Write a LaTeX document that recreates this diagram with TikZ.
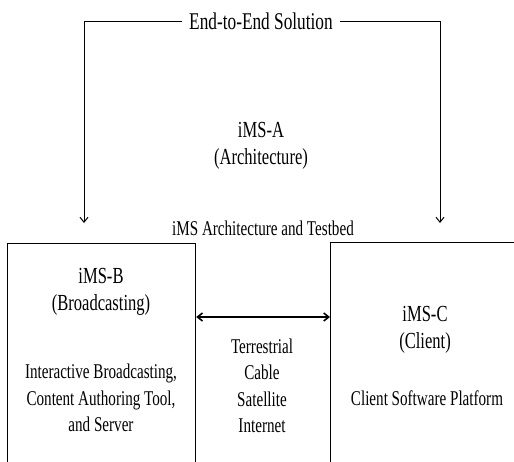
\documentclass[tikz,border=0pt]{standalone}
\usepackage{fontspec}
\setmainfont{Liberation Serif}[FakeStretch=0.72]
\usetikzlibrary{arrows.meta, positioning, calc}

\tikzset{
  panel/.style={draw, line width=1.2pt, anchor=north west, inner sep=0pt},
  lbl/.style={align=center, inner sep=2pt},
}

\begin{document}
\begin{tikzpicture}[x=1pt, y=-1pt, >={Straight Barb[length=5pt, width=8pt]}]

\useasboundingbox (0,0) rectangle (514,461);
\clip (0,0) rectangle (514,461);

% Font sizes
\def\titlefont{\fontsize{24}{27}\selectfont}
\def\headfont{\fontsize{23}{27.5}\selectfont}
\def\bodyfont{\fontsize{21}{26.5}\selectfont}

% Top: end-to-end bracket and architecture
\node[lbl, inner xsep=7pt, font=\titlefont] (title) at (261,21) {End-to-End Solution};
\node[lbl, font=\headfont] (imsa) at (261,146) {iMS-A\\(Architecture)};
\node[lbl, font=\bodyfont] (testbed) at (263,228) {iMS Architecture and Testbed};

% The two boxes (cut by the picture border)
\node[panel, minimum width=188pt, minimum height=260pt] (imsb) at (7,243) {};
\node[panel, minimum width=220pt, minimum height=260pt] (imsc) at (330,242) {};

% Box texts
\node[lbl, font=\headfont] (bhead) at (101,292) {iMS-B\\(Broadcasting)};
\node[lbl, font=\bodyfont] (bbody) at (101,398) {Interactive Broadcasting,\\Content Authoring Tool,\\and Server};
\node[lbl, font=\headfont] (chead) at (425,330) {iMS-C\\(Client)};
\node[lbl, font=\bodyfont] (cbody) at (427,398) {Client Software Platform};

% Links between B and C
\node[lbl, font=\bodyfont] (media) at (262,386) {Terrestrial\\Cable\\Satellite\\Internet};
\coordinate (link) at (262,317);
\draw[<->, line width=1.6pt] (imsb.east |- link) -- (imsc.west |- link);

% Bracket arrows down to B and C
\coordinate (bin) at (84,223);
\coordinate (cin) at (440,223);
\draw[->, line width=1pt] (title.west) -| (bin);
\draw[->, line width=1pt] (title.east) -| (cin);

\end{tikzpicture}
\end{document}
